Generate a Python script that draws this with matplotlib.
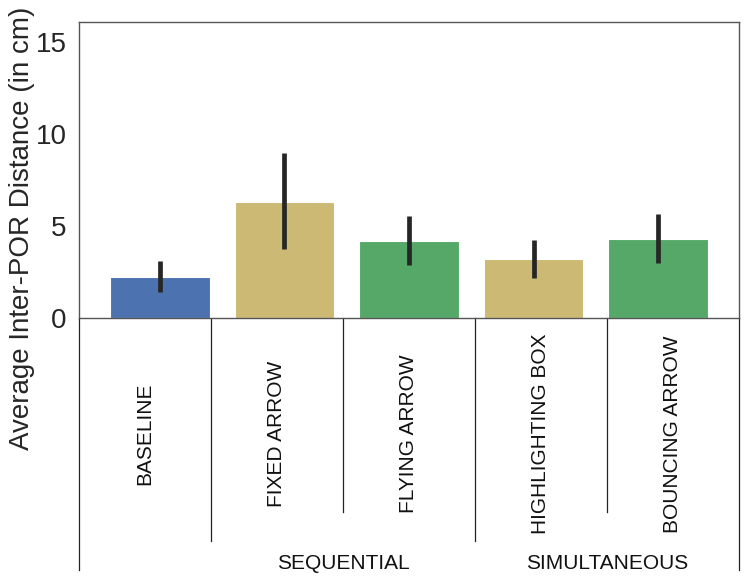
import matplotlib
matplotlib.use('Agg')
import matplotlib.pyplot as plt

# values
conditions = ['BASELINE', 'FIXED ARROW', 'FLYING ARROW', 'HIGHLIGHTING BOX', 'BOUNCING ARROW']
means = [2.23, 6.31, 4.21, 3.20, 4.30]
ci_low = [1.41, 3.75, 2.89, 2.20, 2.98]
ci_high = [3.09, 8.96, 5.57, 4.25, 5.67]
groups = ['SEQUENTIAL', 'SIMULTANEOUS']
yticks = [0, 5, 10, 15]

bar_colors = ['#4c72b0', '#ccb974', '#55a868', '#ccb974', '#55a868']

plt.rcParams['font.family'] = ['Liberation Sans', 'DejaVu Sans']

fig = plt.figure(figsize=(7.47, 5.82), dpi=100)
ax = fig.add_axes([79 / 747, 1 - 318 / 582, 660 / 747, 296 / 582])

pos = list(range(len(conditions)))
ax.bar(pos, means, width=0.8, color=bar_colors, edgecolor='white', linewidth=0.8)
ax.vlines(pos, ci_low, ci_high, color='#262626', linewidth=3.4)

ax.set_xlim(-0.65, 4.65)
ax.set_ylim(0, 16.1)
ax.set_yticks(yticks)
ax.set_xticks([])
ax.tick_params(axis='y', length=0, pad=9, labelsize=20, labelcolor='#262626')
for s in ax.spines.values():
    s.set_color('#555555')
    s.set_linewidth(1.0)

ax.text(-0.0864, 0.304, 'Average Inter-POR Distance (in cm)', transform=ax.transAxes,
        rotation=90, ha='center', va='center', fontsize=20, color='#262626')

# table of labels under the axis
ln = dict(transform=ax.transAxes, clip_on=False, color='#222222', linewidth=0.9)
ax.plot([0, 0], [0, -0.851], **ln)
ax.plot([1, 1], [0, -0.851], **ln)
for xf in [0.2, 0.6]:
    ax.plot([xf, xf], [0, -0.753], **ln)
for xf in [0.4, 0.8]:
    ax.plot([xf, xf], [0, -0.655], **ln)

for i, name in enumerate(conditions):
    ax.text((i + 0.5) / 5, -0.392, name, transform=ax.transAxes, rotation=90,
            ha='center', va='center', fontsize=15, color='#111111')

for xf, g in zip([0.4, 0.8], groups):
    ax.text(xf, -0.828, g, transform=ax.transAxes, ha='center', va='center',
            fontsize=15, color='#111111')

fig.savefig('out.png', dpi=100)
